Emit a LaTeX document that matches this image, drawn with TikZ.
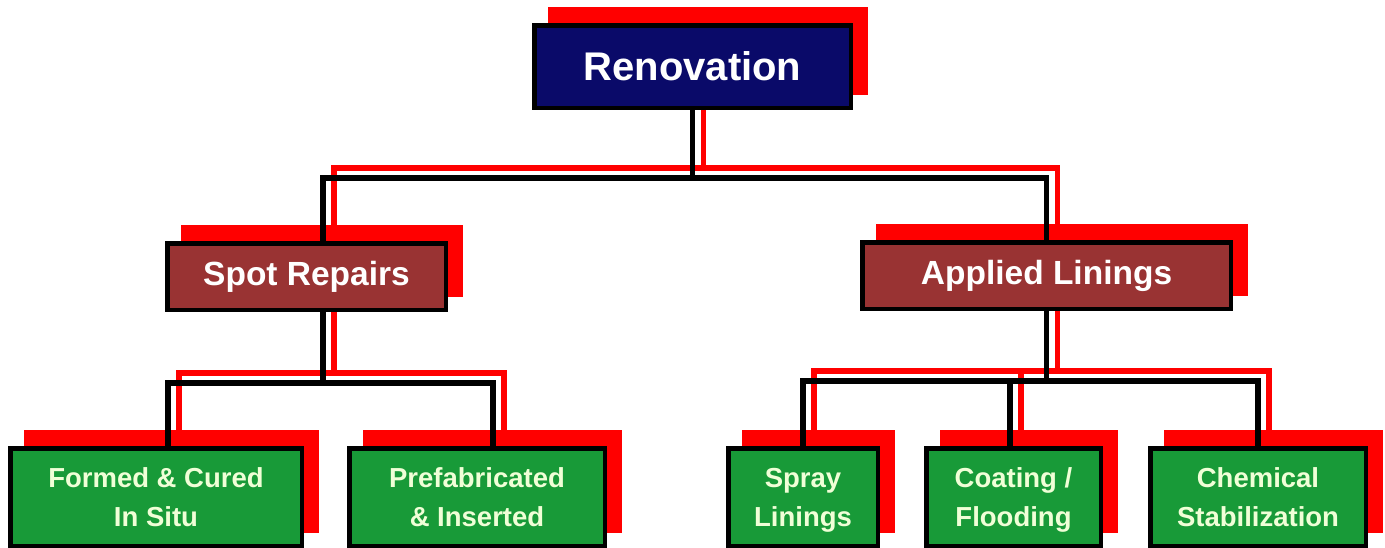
\documentclass[tikz,border=0pt]{standalone}
\usepackage{fontspec}
\setmainfont{Liberation Sans}
\usetikzlibrary{backgrounds}
\definecolor{navybox}{RGB}{10,10,105}
\definecolor{maroonbox}{RGB}{153,51,51}
\definecolor{greenbox}{RGB}{24,154,56}
\definecolor{shadowred}{RGB}{255,0,0}
\definecolor{paletext}{RGB}{240,255,215}

\begin{document}
\begin{tikzpicture}[x=1pt,y=-1pt,
  box/.style={draw=black,line width=4.5pt,inner sep=0pt,align=center},
  topbox/.style={box,fill=navybox,text=white,minimum width=316.5pt,minimum height=82.5pt,font=\fontsize{40}{48}\selectfont\bfseries},
  midbox/.style={box,fill=maroonbox,text=white,minimum height=66.5pt,font=\fontsize{33.5}{40}\selectfont\bfseries},
  lowbox/.style={box,fill=greenbox,text=paletext,minimum height=97.5pt,text depth=0pt,font=\fontsize{27.5}{39}\selectfont\bfseries},
  wire/.style={line width=5.5pt}]
\useasboundingbox (0,0) rectangle (1385,547);

\node[topbox] (ren) at (692.5,66.5) {Renovation};

\node[midbox,minimum width=278.5pt] (spot) at (306.5,276.5) {Spot Repairs};
\node[midbox,minimum width=368.5pt] (appl) at (1046.5,275.5) {Applied Linings};

\node[lowbox,minimum width=291.5pt] (form) at (156,497) {Formed \& Cured\\In Situ};
\node[lowbox,minimum width=255.5pt] (pref) at (477,497) {Prefabricated\\\& Inserted};
\node[lowbox,minimum width=149.5pt] (spray) at (803,497) {Spray\\Linings};
\node[lowbox,minimum width=174.5pt] (coat) at (1013.5,497) {Coating /\\Flooding};
\node[lowbox,minimum width=215.5pt] (chem) at (1258,497) {Chemical\\Stabilization};

\coordinate (renbus) at (692.5,178);
\coordinate (spotin) at ([xshift=16.5pt]spot.north);
\coordinate (spotout) at ([xshift=16.5pt]spot.south);
\coordinate (spotbus) at (323,383);
\coordinate (applbus) at (1046.5,381);
\coordinate (formin) at ([xshift=12pt]form.north);
\coordinate (prefin) at ([xshift=16pt]pref.north);
\coordinate (coatin) at ([xshift=-3.5pt]coat.north);

\begin{pgfonlayer}{background}
% red shadows behind the boxes
\foreach \n in {ren,spot,appl,form,pref,spray,coat,chem}
  \fill[shadowred] ([shift={(16,-15)}]\n.south west) rectangle ([shift={(15,-16)}]\n.north east);
% red copy of the tree first, black on top
\foreach \dx/\dy/\c in {11/-10/shadowred,0/0/black} {
  \draw[wire,\c] ([shift={(\dx,\dy)}]ren.south) -- ([shift={(\dx,\dy)}]renbus) -| ([shift={(\dx,\dy)}]spotin);
  \draw[wire,\c] ([shift={(\dx,\dy)}]renbus) -| ([shift={(\dx,\dy)}]appl.north);
  \draw[wire,\c] ([shift={(\dx,\dy)}]spotout) -- ([shift={(\dx,\dy)}]spotbus) -| ([shift={(\dx,\dy)}]formin);
  \draw[wire,\c] ([shift={(\dx,\dy)}]spotbus) -| ([shift={(\dx,\dy)}]prefin);
  \draw[wire,\c] ([shift={(\dx,\dy)}]appl.south) -- ([shift={(\dx,\dy)}]applbus) -| ([shift={(\dx,\dy)}]spray.north);
  \draw[wire,\c] ([shift={(\dx,\dy)}]applbus) -| ([shift={(\dx,\dy)}]coatin);
  \draw[wire,\c] ([shift={(\dx,\dy)}]applbus) -| ([shift={(\dx,\dy)}]chem.north);
}
\end{pgfonlayer}
\end{tikzpicture}
\end{document}
